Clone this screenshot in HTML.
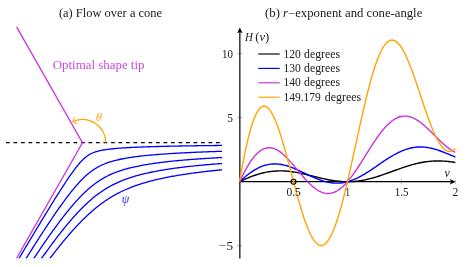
<!DOCTYPE html>
<html><head><meta charset="utf-8"><title>Figure</title>
<style>
html,body{margin:0;padding:0;background:#fff;}
svg{display:block;will-change:transform;}
text{font-family:"Liberation Serif",serif;font-size:11.3px;fill:#202020;}
.i{font-style:italic;}
.n{font-size:12.2px;}
.t{font-size:11.9px;}
</style></head><body>
<svg width="471" height="267" viewBox="0 0 471 267">
<defs><clipPath id="clipL"><rect x="0" y="0" width="222" height="258.2"/></clipPath></defs>
<rect width="471" height="267" fill="#ffffff"/>
<!-- left panel -->
<text class="t" x="58.9" y="16.7" textLength="103.2" lengthAdjust="spacingAndGlyphs">(a) Flow over a cone</text>
<text class="n" x="52.7" y="69.4" textLength="91.8" lengthAdjust="spacingAndGlyphs" style="fill:#c832dc;fill-opacity:0.9">Optimal shape tip</text>
<path d="M6,142.70000000000002 H220.5" stroke="#000" stroke-width="1.25" stroke-dasharray="3.75 3.75" fill="none"/>
<g clip-path="url(#clipL)">
<path d="M225.75,145.40 L224.29,145.41 L222.86,145.43 L221.46,145.44 L220.10,145.45 L218.77,145.47 L217.48,145.48 L216.21,145.50 L214.98,145.51 L213.77,145.53 L212.20,145.54 L210.68,145.56 L209.20,145.58 L207.76,145.60 L206.36,145.61 L205.00,145.63 L203.68,145.65 L202.39,145.67 L201.14,145.68 L199.92,145.70 L198.44,145.72 L197.00,145.74 L195.60,145.76 L194.25,145.78 L192.94,145.80 L191.66,145.82 L190.43,145.84 L189.22,145.85 L187.82,145.88 L186.46,145.90 L185.15,145.92 L183.88,145.94 L182.64,145.96 L181.25,145.99 L179.90,146.01 L178.60,146.04 L177.34,146.06 L176.12,146.08 L174.78,146.11 L173.48,146.13 L172.23,146.16 L171.01,146.18 L169.70,146.21 L168.43,146.24 L167.21,146.27 L165.90,146.29 L164.64,146.32 L163.42,146.35 L162.14,146.38 L160.91,146.41 L159.61,146.45 L158.37,146.48 L157.08,146.51 L155.84,146.55 L154.56,146.58 L153.34,146.62 L152.09,146.65 L150.88,146.69 L149.66,146.73 L148.41,146.77 L147.16,146.81 L145.89,146.85 L144.69,146.89 L143.48,146.94 L142.27,146.98 L141.07,147.03 L139.82,147.08 L138.59,147.13 L137.38,147.18 L136.15,147.23 L134.94,147.28 L133.71,147.34 L132.49,147.40 L131.26,147.46 L130.05,147.52 L128.84,147.59 L127.63,147.65 L126.41,147.73 L125.19,147.80 L123.99,147.88 L122.78,147.95 L121.57,148.04 L120.36,148.13 L119.15,148.22 L117.95,148.31 L116.74,148.41 L115.53,148.52 L114.33,148.63 L113.14,148.75 L111.94,148.87 L110.74,149.00 L109.55,149.14 L108.35,149.29 L107.16,149.45 L105.97,149.62 L104.78,149.80 L103.60,150.00 L102.41,150.21 L101.23,150.44 L100.06,150.69 L98.89,150.96 L97.72,151.26 L96.57,151.58 L95.42,151.94 L94.28,152.33 L93.16,152.75 L92.06,153.22 L90.97,153.73 L89.90,154.29 L88.87,154.89 L87.85,155.54 L86.87,156.22 L85.91,156.95 L84.98,157.71 L84.08,158.50 L83.20,159.32 L82.34,160.16 L81.50,161.02 L80.69,161.90 L79.88,162.80 L79.10,163.71 L78.32,164.63 L77.56,165.56 L76.81,166.49 L76.06,167.44 L75.33,168.40 L74.60,169.36 L73.88,170.32 L73.17,171.30 L72.47,172.27 L71.76,173.26 L71.06,174.24 L70.37,175.23 L69.68,176.22 L69.00,177.22 L68.32,178.22 L67.64,179.21 L66.96,180.22 L66.29,181.24 L65.61,182.25 L64.94,183.27 L64.28,184.27 L63.61,185.30 L62.95,186.31 L62.28,187.34 L61.61,188.38 L60.95,189.41 L60.28,190.45 L59.63,191.48 L58.96,192.53 L58.31,193.56 L57.64,194.60 L57.00,195.62 L56.36,196.65 L55.71,197.67 L55.07,198.70 L54.43,199.73 L53.79,200.75 L53.13,201.82 L52.47,202.88 L51.82,203.93 L51.19,204.95 L50.53,206.02 L49.88,207.07 L49.21,208.16 L48.56,209.22 L47.88,210.32 L47.23,211.39 L46.55,212.50 L45.91,213.55 L45.24,214.65 L44.60,215.69 L43.95,216.78 L43.26,217.90 L42.63,218.95 L41.97,220.04 L41.28,221.17 L40.65,222.21 L40.00,223.29 L39.32,224.40 L38.63,225.56 L37.99,226.61 L37.34,227.69 L36.67,228.81 L35.97,229.97 L35.25,231.18 L34.61,232.24 L33.95,233.34 L33.27,234.47 L32.57,235.64 L31.85,236.85 L31.23,237.89 L30.59,238.96 L29.93,240.06 L29.25,241.19 L28.55,242.36 L27.84,243.56 L27.09,244.81 L26.33,246.09 L25.70,247.15 L25.06,248.23 L24.39,249.34 L23.71,250.49 L23.01,251.67 L22.30,252.88 L21.56,254.12 L20.80,255.40 L20.01,256.72 L19.21,258.08 L18.59,259.13 L17.95,260.20 L17.30,261.30 L17.08,261.67" fill="none" stroke="#0000ff" stroke-width="1.3"/>
<path d="M225.95,151.18 L224.64,151.22 L223.35,151.26 L222.09,151.30 L220.87,151.34 L219.66,151.38 L218.34,151.42 L217.05,151.46 L215.79,151.50 L214.56,151.55 L213.35,151.59 L212.04,151.63 L210.77,151.68 L209.53,151.72 L208.31,151.77 L207.01,151.82 L205.74,151.86 L204.50,151.91 L203.29,151.96 L202.01,152.01 L200.75,152.06 L199.53,152.11 L198.25,152.16 L197.00,152.21 L195.78,152.27 L194.50,152.32 L193.26,152.38 L192.05,152.43 L190.79,152.49 L189.56,152.55 L188.29,152.60 L187.06,152.66 L185.79,152.73 L184.56,152.79 L183.29,152.85 L182.06,152.92 L180.80,152.98 L179.58,153.05 L178.34,153.12 L177.13,153.18 L175.90,153.25 L174.66,153.32 L173.45,153.40 L172.23,153.47 L171.00,153.54 L169.76,153.62 L168.52,153.70 L167.32,153.78 L166.11,153.86 L164.91,153.94 L163.70,154.03 L162.50,154.11 L161.30,154.20 L160.07,154.29 L158.85,154.39 L157.64,154.48 L156.41,154.58 L155.20,154.68 L153.98,154.78 L152.77,154.89 L151.56,154.99 L150.34,155.10 L149.12,155.22 L147.91,155.33 L146.70,155.45 L145.49,155.58 L144.30,155.70 L143.09,155.83 L141.89,155.96 L140.68,156.10 L139.47,156.24 L138.27,156.38 L137.07,156.53 L135.87,156.69 L134.68,156.85 L133.49,157.01 L132.29,157.18 L131.10,157.35 L129.91,157.54 L128.71,157.72 L127.52,157.92 L126.33,158.12 L125.14,158.33 L123.95,158.55 L122.77,158.77 L121.59,159.01 L120.41,159.25 L119.23,159.50 L118.06,159.77 L116.89,160.04 L115.72,160.33 L114.55,160.63 L113.39,160.94 L112.23,161.27 L111.08,161.61 L109.93,161.97 L108.78,162.34 L107.65,162.73 L106.52,163.14 L105.39,163.56 L104.27,164.01 L103.17,164.48 L102.07,164.96 L100.98,165.47 L99.90,166.00 L98.83,166.55 L97.78,167.12 L96.73,167.72 L95.70,168.33 L94.68,168.97 L93.68,169.63 L92.68,170.31 L91.70,171.00 L90.74,171.72 L89.79,172.45 L88.85,173.20 L87.92,173.97 L87.01,174.75 L86.11,175.54 L85.22,176.35 L84.34,177.17 L83.47,178.00 L82.61,178.85 L81.76,179.70 L80.93,180.57 L80.10,181.44 L79.28,182.32 L78.46,183.21 L77.66,184.10 L76.86,185.00 L76.07,185.91 L75.29,186.83 L74.51,187.75 L73.74,188.67 L72.97,189.60 L72.21,190.53 L71.46,191.47 L70.71,192.41 L69.96,193.36 L69.22,194.31 L68.48,195.26 L67.75,196.23 L67.01,197.19 L66.29,198.15 L65.56,199.12 L64.83,200.10 L64.11,201.08 L63.39,202.07 L62.68,203.04 L61.96,204.04 L61.26,205.02 L60.55,206.00 L59.84,207.00 L59.14,207.99 L58.44,208.99 L57.75,209.98 L57.05,210.98 L56.35,211.98 L55.67,212.97 L54.98,213.97 L54.28,214.99 L53.60,215.98 L52.92,216.98 L52.24,217.99 L51.55,219.01 L50.87,220.02 L50.19,221.04 L49.50,222.06 L48.83,223.07 L48.15,224.09 L47.49,225.09 L46.80,226.13 L46.12,227.17 L45.44,228.19 L44.78,229.20 L44.10,230.24 L43.43,231.26 L42.74,232.32 L42.07,233.36 L41.41,234.37 L40.73,235.42 L40.07,236.43 L39.39,237.48 L38.74,238.50 L38.07,239.55 L37.42,240.56 L36.75,241.60 L36.07,242.67 L35.41,243.70 L34.74,244.75 L34.04,245.84 L33.39,246.88 L32.71,247.95 L32.01,249.04 L31.36,250.08 L30.68,251.15 L29.99,252.25 L29.34,253.28 L28.67,254.34 L27.99,255.43 L27.29,256.54 L26.64,257.58 L25.97,258.65 L25.29,259.74 L24.59,260.86 L23.94,261.89 L23.94,261.89" fill="none" stroke="#0000ff" stroke-width="1.3"/>
<path d="M225.98,157.30 L224.71,157.36 L223.48,157.43 L222.27,157.49 L220.99,157.56 L219.74,157.63 L218.52,157.69 L217.24,157.77 L215.99,157.84 L214.77,157.91 L213.50,157.98 L212.26,158.06 L211.04,158.13 L209.78,158.21 L208.55,158.28 L207.35,158.36 L206.11,158.44 L204.89,158.51 L203.65,158.60 L202.43,158.68 L201.18,158.76 L199.96,158.85 L198.71,158.93 L197.49,159.02 L196.25,159.11 L195.04,159.20 L193.81,159.29 L192.61,159.38 L191.39,159.47 L190.16,159.57 L188.95,159.66 L187.74,159.76 L186.51,159.86 L185.27,159.97 L184.07,160.07 L182.86,160.17 L181.64,160.28 L180.42,160.39 L179.20,160.50 L177.97,160.62 L176.75,160.73 L175.53,160.85 L174.31,160.97 L173.10,161.09 L171.89,161.22 L170.69,161.34 L169.47,161.47 L168.26,161.60 L167.06,161.74 L165.85,161.88 L164.65,162.01 L163.44,162.16 L162.24,162.30 L161.04,162.45 L159.84,162.60 L158.63,162.76 L157.43,162.92 L156.22,163.08 L155.03,163.25 L153.83,163.42 L152.63,163.59 L151.43,163.77 L150.23,163.95 L149.05,164.14 L147.86,164.33 L146.67,164.52 L145.48,164.72 L144.29,164.93 L143.10,165.14 L141.91,165.36 L140.72,165.58 L139.53,165.81 L138.35,166.05 L137.17,166.29 L135.98,166.54 L134.81,166.80 L133.64,167.06 L132.46,167.33 L131.29,167.61 L130.12,167.90 L128.95,168.20 L127.78,168.50 L126.62,168.82 L125.46,169.14 L124.31,169.47 L123.15,169.82 L122.01,170.18 L120.86,170.54 L119.72,170.92 L118.58,171.31 L117.45,171.72 L116.32,172.13 L115.20,172.56 L114.08,173.00 L112.97,173.46 L111.86,173.93 L110.76,174.42 L109.67,174.92 L108.59,175.43 L107.51,175.96 L106.44,176.51 L105.37,177.07 L104.32,177.65 L103.27,178.24 L102.24,178.84 L101.21,179.46 L100.19,180.10 L99.18,180.75 L98.18,181.42 L97.19,182.09 L96.20,182.79 L95.23,183.49 L94.26,184.21 L93.31,184.95 L92.36,185.69 L91.43,186.44 L90.50,187.21 L89.58,187.98 L88.67,188.77 L87.77,189.57 L86.88,190.38 L85.99,191.19 L85.12,192.01 L84.25,192.85 L83.39,193.68 L82.53,194.53 L81.68,195.38 L80.84,196.24 L80.01,197.11 L79.18,197.98 L78.36,198.86 L77.54,199.75 L76.73,200.64 L75.92,201.53 L75.12,202.43 L74.32,203.34 L73.53,204.25 L72.74,205.17 L71.95,206.09 L71.18,207.01 L70.40,207.94 L69.63,208.86 L68.86,209.79 L68.10,210.73 L67.34,211.67 L66.59,212.60 L65.84,213.55 L65.09,214.50 L64.34,215.45 L63.60,216.41 L62.86,217.36 L62.13,218.31 L61.39,219.27 L60.67,220.23 L59.93,221.20 L59.20,222.17 L58.48,223.13 L57.75,224.11 L57.03,225.09 L56.31,226.07 L55.59,227.04 L54.88,228.02 L54.16,229.01 L53.45,229.99 L52.75,230.97 L52.04,231.95 L51.34,232.94 L50.63,233.93 L49.93,234.92 L49.23,235.91 L48.53,236.90 L47.84,237.89 L47.15,238.87 L46.44,239.89 L45.74,240.90 L45.04,241.90 L44.36,242.89 L43.65,243.91 L42.96,244.92 L42.28,245.92 L41.58,246.94 L40.89,247.95 L40.18,248.99 L39.49,250.01 L38.81,251.01 L38.12,252.04 L37.45,253.04 L36.75,254.07 L36.08,255.08 L35.39,256.11 L34.72,257.11 L34.04,258.13 L33.34,259.18 L32.67,260.20 L31.98,261.24 L31.48,261.99" fill="none" stroke="#0000ff" stroke-width="1.3"/>
<path d="M225.96,163.18 L224.70,163.28 L223.46,163.37 L222.24,163.46 L220.99,163.55 L219.76,163.64 L218.56,163.74 L217.33,163.83 L216.12,163.93 L214.88,164.03 L213.66,164.13 L212.42,164.23 L211.20,164.33 L209.96,164.44 L208.74,164.54 L207.51,164.65 L206.30,164.76 L205.07,164.87 L203.87,164.98 L202.65,165.09 L201.41,165.20 L200.20,165.32 L198.98,165.44 L197.75,165.56 L196.55,165.68 L195.33,165.80 L194.11,165.93 L192.88,166.06 L191.68,166.18 L190.48,166.31 L189.27,166.45 L188.06,166.58 L186.84,166.72 L185.63,166.86 L184.42,167.00 L183.21,167.15 L182.00,167.29 L180.79,167.44 L179.60,167.59 L178.40,167.75 L177.19,167.90 L175.98,168.06 L174.79,168.23 L173.57,168.39 L172.37,168.56 L171.16,168.74 L169.97,168.91 L168.76,169.09 L167.57,169.27 L166.38,169.46 L165.18,169.65 L163.98,169.84 L162.78,170.04 L161.58,170.24 L160.38,170.45 L159.19,170.66 L158.01,170.87 L156.81,171.09 L155.62,171.31 L154.45,171.54 L153.26,171.77 L152.08,172.01 L150.89,172.25 L149.70,172.50 L148.52,172.76 L147.34,173.02 L146.16,173.28 L144.99,173.55 L143.82,173.83 L142.65,174.12 L141.49,174.41 L140.32,174.71 L139.15,175.01 L137.99,175.33 L136.83,175.65 L135.67,175.98 L134.51,176.32 L133.36,176.66 L132.21,177.02 L131.06,177.38 L129.92,177.76 L128.78,178.14 L127.64,178.53 L126.50,178.93 L125.38,179.35 L124.25,179.77 L123.13,180.20 L122.01,180.65 L120.90,181.10 L119.79,181.57 L118.68,182.05 L117.58,182.54 L116.49,183.04 L115.40,183.56 L114.32,184.08 L113.25,184.62 L112.18,185.17 L111.11,185.73 L110.06,186.31 L109.01,186.90 L107.96,187.50 L106.93,188.11 L105.90,188.73 L104.88,189.37 L103.86,190.01 L102.86,190.67 L101.86,191.34 L100.87,192.02 L99.88,192.72 L98.90,193.42 L97.94,194.13 L96.98,194.85 L96.02,195.59 L95.08,196.33 L94.14,197.08 L93.21,197.84 L92.28,198.61 L91.37,199.39 L90.45,200.17 L89.55,200.97 L88.65,201.77 L87.76,202.58 L86.88,203.40 L85.99,204.22 L85.12,205.05 L84.25,205.89 L83.39,206.74 L82.54,207.58 L81.69,208.43 L80.85,209.29 L80.01,210.15 L79.17,211.03 L78.34,211.90 L77.52,212.78 L76.70,213.67 L75.88,214.56 L75.07,215.45 L74.26,216.36 L73.45,217.26 L72.65,218.17 L71.85,219.08 L71.06,219.99 L70.27,220.90 L69.49,221.82 L68.71,222.74 L67.93,223.67 L67.16,224.59 L66.40,225.52 L65.63,226.45 L64.87,227.38 L64.10,228.33 L63.34,229.28 L62.58,230.22 L61.83,231.16 L61.07,232.12 L60.32,233.07 L59.57,234.04 L58.82,234.99 L58.08,235.95 L57.34,236.91 L56.60,237.87 L55.86,238.84 L55.12,239.82 L54.40,240.77 L53.67,241.74 L52.95,242.70 L52.23,243.67 L51.50,244.64 L50.79,245.61 L50.07,246.58 L49.36,247.55 L48.63,248.55 L47.90,249.54 L47.18,250.53 L46.47,251.52 L45.76,252.50 L45.04,253.50 L44.32,254.50 L43.62,255.49 L42.92,256.47 L42.21,257.47 L41.51,258.46 L40.79,259.47 L40.09,260.47 L39.40,261.46 L39.04,261.96" fill="none" stroke="#0000ff" stroke-width="1.3"/>
<path d="M225.97,169.39 L224.77,169.51 L223.53,169.62 L222.31,169.74 L221.08,169.86 L219.86,169.98 L218.62,170.10 L217.41,170.23 L216.18,170.35 L214.97,170.48 L213.74,170.61 L212.54,170.73 L211.33,170.87 L210.09,171.00 L208.89,171.14 L207.67,171.27 L206.47,171.41 L205.27,171.55 L204.05,171.69 L202.82,171.84 L201.63,171.98 L200.42,172.13 L199.21,172.28 L197.99,172.44 L196.77,172.59 L195.58,172.75 L194.38,172.91 L193.19,173.07 L191.99,173.23 L190.79,173.40 L189.59,173.57 L188.40,173.74 L187.21,173.91 L186.02,174.09 L184.80,174.27 L183.60,174.45 L182.40,174.64 L181.21,174.83 L180.00,175.02 L178.81,175.22 L177.62,175.42 L176.42,175.62 L175.23,175.82 L174.03,176.03 L172.85,176.25 L171.66,176.46 L170.46,176.68 L169.28,176.91 L168.10,177.14 L166.91,177.37 L165.73,177.61 L164.54,177.85 L163.36,178.09 L162.18,178.35 L161.00,178.60 L159.83,178.86 L158.65,179.13 L157.47,179.40 L156.29,179.67 L155.12,179.96 L153.94,180.24 L152.77,180.54 L151.60,180.84 L150.43,181.14 L149.27,181.45 L148.11,181.77 L146.96,182.09 L145.80,182.42 L144.65,182.76 L143.50,183.10 L142.34,183.46 L141.19,183.82 L140.04,184.18 L138.90,184.56 L137.75,184.94 L136.61,185.33 L135.48,185.73 L134.35,186.14 L133.22,186.56 L132.09,186.98 L130.97,187.42 L129.85,187.86 L128.73,188.32 L127.62,188.78 L126.51,189.25 L125.41,189.73 L124.31,190.22 L123.22,190.72 L122.13,191.24 L121.04,191.76 L119.97,192.29 L118.89,192.83 L117.83,193.38 L116.77,193.94 L115.71,194.52 L114.66,195.10 L113.61,195.69 L112.57,196.29 L111.54,196.91 L110.51,197.53 L109.49,198.16 L108.47,198.81 L107.46,199.46 L106.46,200.12 L105.46,200.79 L104.46,201.48 L103.48,202.17 L102.50,202.87 L101.52,203.58 L100.56,204.30 L99.59,205.02 L98.64,205.76 L97.69,206.50 L96.75,207.25 L95.81,208.01 L94.88,208.78 L93.96,209.55 L93.04,210.32 L92.13,211.11 L91.22,211.91 L90.32,212.70 L89.43,213.51 L88.54,214.32 L87.65,215.14 L86.78,215.96 L85.90,216.79 L85.04,217.62 L84.17,218.46 L83.32,219.31 L82.46,220.15 L81.62,221.00 L80.77,221.87 L79.93,222.73 L79.09,223.60 L78.26,224.47 L77.43,225.35 L76.60,226.23 L75.78,227.12 L74.96,228.01 L74.14,228.90 L73.34,229.79 L72.53,230.69 L71.73,231.59 L70.94,232.49 L70.14,233.39 L69.35,234.30 L68.56,235.22 L67.77,236.14 L66.98,237.06 L66.21,237.98 L65.42,238.91 L64.65,239.83 L63.87,240.77 L63.10,241.70 L62.33,242.64 L61.57,243.57 L60.81,244.51 L60.05,245.45 L59.28,246.41 L58.53,247.35 L57.77,248.29 L57.02,249.25 L56.27,250.20 L55.52,251.16 L54.77,252.12 L54.02,253.08 L53.27,254.05 L52.53,255.02 L51.79,255.98 L51.05,256.95 L50.32,257.91 L49.59,258.87 L48.85,259.85 L48.11,260.83 L47.38,261.80 L47.25,261.98" fill="none" stroke="#0000ff" stroke-width="1.3"/>
</g>

<path d="M16.6,26.9 L82.45,142.8 L16.6,258.3" fill="none" stroke="#c832dc" stroke-width="1.3" stroke-linejoin="miter"/>
<path d="M105.75,142.80 A23.3,23.3 0 0 0 72.97,121.51" fill="none" stroke="#ffa500" stroke-width="1.25"/>
<path d="M74.56,117.58 Q73.33,120.83 72.42,121.97 Q73.86,122.18 76.98,123.72" fill="none" stroke="#ffa500" stroke-width="0.95" stroke-linecap="round" stroke-linejoin="round"/>
<text transform="translate(95.4,121.0) skewX(-7)" class="i" style="fill:#ffa500;font-size:12px;fill-opacity:0.92">θ</text>
<text x="121.8" y="203.0" class="i" style="fill:#0000ff;font-size:12px;fill-opacity:0.88">ψ</text>
<!-- right panel -->
<text class="t" x="265.1" y="16.7" textLength="157.2" lengthAdjust="spacingAndGlyphs">(b) <tspan class="i">r</tspan>−exponent and cone-angle</text>
<!-- ticks -->
<g stroke="#808080" stroke-width="0.5" fill="none">
<path d="M237.0,53.60 H242.6 M237.0,117.65 H242.6 M237.0,245.75 H242.6"/>
<path d="M293.52,178.8 V184.3 M347.45,178.8 V184.3 M401.38,178.8 V184.3 M455.30,178.8 V184.3"/>
</g>
<!-- axes -->
<path d="M239.85,258.6 V31.5" stroke="#000" stroke-width="1.2" fill="none"/>
<path d="M239.85,27.6 L237.1,33.3 L239.85,32.1 L242.6,33.3 Z" fill="#000"/>
<path d="M239.85,181.7 H451.5" stroke="#000" stroke-width="1.2" fill="none"/>
<path d="M455.6,181.7 L449.9,178.95 L451.1,181.7 L449.9,184.45 Z" fill="#000"/>
<path d="M239.60,181.70 L240.95,181.06 L242.30,180.44 L243.64,179.83 L244.99,179.22 L246.34,178.64 L247.69,178.07 L249.04,177.51 L250.38,176.97 L251.73,176.45 L253.08,175.95 L254.43,175.47 L255.78,175.01 L257.13,174.57 L258.47,174.15 L259.82,173.76 L261.17,173.39 L262.52,173.05 L263.87,172.73 L265.21,172.43 L266.56,172.16 L267.91,171.92 L269.26,171.70 L270.61,171.50 L271.95,171.34 L273.30,171.20 L274.65,171.08 L276.00,170.99 L277.35,170.93 L278.70,170.89 L280.04,170.87 L281.39,170.88 L282.74,170.91 L284.09,170.97 L285.44,171.05 L286.78,171.15 L288.13,171.28 L289.48,171.42 L290.83,171.58 L292.18,171.76 L293.52,171.96 L294.87,172.18 L296.22,172.41 L297.57,172.66 L298.92,172.92 L300.27,173.20 L301.61,173.48 L302.96,173.78 L304.31,174.08 L305.66,174.40 L307.01,174.72 L308.35,175.04 L309.70,175.37 L311.05,175.71 L312.40,176.04 L313.75,176.38 L315.10,176.71 L316.44,177.04 L317.79,177.37 L319.14,177.70 L320.49,178.02 L321.84,178.33 L323.18,178.64 L324.53,178.94 L325.88,179.22 L327.23,179.50 L328.58,179.76 L329.92,180.01 L331.27,180.25 L332.62,180.47 L333.97,180.67 L335.32,180.86 L336.66,181.03 L338.01,181.19 L339.36,181.32 L340.71,181.43 L342.06,181.53 L343.41,181.60 L344.75,181.66 L346.10,181.69 L347.45,181.70 L348.80,181.69 L350.15,181.66 L351.49,181.60 L352.84,181.52 L354.19,181.43 L355.54,181.30 L356.89,181.16 L358.24,181.00 L359.58,180.81 L360.93,180.60 L362.28,180.38 L363.63,180.13 L364.98,179.86 L366.32,179.57 L367.67,179.27 L369.02,178.94 L370.37,178.60 L371.72,178.24 L373.06,177.87 L374.41,177.48 L375.76,177.08 L377.11,176.66 L378.46,176.23 L379.80,175.79 L381.15,175.34 L382.50,174.88 L383.85,174.42 L385.20,173.94 L386.55,173.46 L387.89,172.98 L389.24,172.49 L390.59,172.00 L391.94,171.50 L393.29,171.01 L394.63,170.52 L395.98,170.03 L397.33,169.54 L398.68,169.06 L400.03,168.58 L401.38,168.11 L402.72,167.65 L404.07,167.19 L405.42,166.75 L406.77,166.31 L408.12,165.89 L409.46,165.48 L410.81,165.08 L412.16,164.70 L413.51,164.33 L414.86,163.98 L416.20,163.64 L417.55,163.33 L418.90,163.03 L420.25,162.74 L421.60,162.48 L422.94,162.24 L424.29,162.02 L425.64,161.81 L426.99,161.63 L428.34,161.47 L429.69,161.33 L431.03,161.21 L432.38,161.11 L433.73,161.03 L435.08,160.98 L436.43,160.94 L437.77,160.93 L439.12,160.94 L440.47,160.97 L441.82,161.01 L443.17,161.08 L444.51,161.17 L445.86,161.27 L447.21,161.40 L448.56,161.54 L449.91,161.70 L451.26,161.87 L452.60,162.06 L453.95,162.27 L455.30,162.48" fill="none" stroke="#000000" stroke-width="1.4" stroke-linejoin="round"/>
<path d="M239.60,181.70 L240.95,180.46 L242.30,179.25 L243.64,178.07 L244.99,176.92 L246.34,175.82 L247.69,174.75 L249.04,173.72 L250.38,172.74 L251.73,171.81 L253.08,170.92 L254.43,170.08 L255.78,169.29 L257.13,168.55 L258.47,167.86 L259.82,167.23 L261.17,166.65 L262.52,166.13 L263.87,165.66 L265.21,165.25 L266.56,164.90 L267.91,164.59 L269.26,164.35 L270.61,164.16 L271.95,164.02 L273.30,163.94 L274.65,163.91 L276.00,163.93 L277.35,164.01 L278.70,164.13 L280.04,164.30 L281.39,164.51 L282.74,164.77 L284.09,165.07 L285.44,165.41 L286.78,165.79 L288.13,166.21 L289.48,166.66 L290.83,167.14 L292.18,167.65 L293.52,168.18 L294.87,168.74 L296.22,169.32 L297.57,169.92 L298.92,170.53 L300.27,171.15 L301.61,171.79 L302.96,172.43 L304.31,173.08 L305.66,173.72 L307.01,174.37 L308.35,175.01 L309.70,175.64 L311.05,176.26 L312.40,176.87 L313.75,177.47 L315.10,178.05 L316.44,178.60 L317.79,179.14 L319.14,179.65 L320.49,180.13 L321.84,180.58 L323.18,181.00 L324.53,181.39 L325.88,181.74 L327.23,182.06 L328.58,182.34 L329.92,182.57 L331.27,182.77 L332.62,182.93 L333.97,183.04 L335.32,183.11 L336.66,183.13 L338.01,183.11 L339.36,183.05 L340.71,182.93 L342.06,182.78 L343.41,182.58 L344.75,182.33 L346.10,182.04 L347.45,181.70 L348.80,181.32 L350.15,180.90 L351.49,180.43 L352.84,179.93 L354.19,179.38 L355.54,178.80 L356.89,178.18 L358.24,177.53 L359.58,176.84 L360.93,176.12 L362.28,175.37 L363.63,174.59 L364.98,173.79 L366.32,172.96 L367.67,172.12 L369.02,171.25 L370.37,170.37 L371.72,169.47 L373.06,168.57 L374.41,167.65 L375.76,166.73 L377.11,165.80 L378.46,164.87 L379.80,163.94 L381.15,163.02 L382.50,162.10 L383.85,161.19 L385.20,160.29 L386.55,159.41 L387.89,158.54 L389.24,157.68 L390.59,156.85 L391.94,156.04 L393.29,155.26 L394.63,154.50 L395.98,153.77 L397.33,153.07 L398.68,152.40 L400.03,151.77 L401.38,151.17 L402.72,150.61 L404.07,150.08 L405.42,149.59 L406.77,149.15 L408.12,148.74 L409.46,148.37 L410.81,148.05 L412.16,147.77 L413.51,147.53 L414.86,147.34 L416.20,147.18 L417.55,147.07 L418.90,147.01 L420.25,146.98 L421.60,147.00 L422.94,147.05 L424.29,147.15 L425.64,147.29 L426.99,147.46 L428.34,147.67 L429.69,147.92 L431.03,148.20 L432.38,148.52 L433.73,148.86 L435.08,149.24 L436.43,149.64 L437.77,150.07 L439.12,150.52 L440.47,151.00 L441.82,151.49 L443.17,152.00 L444.51,152.53 L445.86,153.06 L447.21,153.61 L448.56,154.17 L449.91,154.73 L451.26,155.30 L452.60,155.87 L453.95,156.44 L455.30,157.00" fill="none" stroke="#0000ff" stroke-width="1.4" stroke-linejoin="round"/>
<path d="M239.60,181.70 L240.95,178.82 L242.30,176.04 L243.64,173.36 L244.99,170.80 L246.34,168.35 L247.69,166.02 L249.04,163.81 L250.38,161.74 L251.73,159.80 L253.08,158.00 L254.43,156.35 L255.78,154.83 L257.13,153.46 L258.47,152.24 L259.82,151.16 L261.17,150.24 L262.52,149.46 L263.87,148.83 L265.21,148.34 L266.56,148.00 L267.91,147.80 L269.26,147.74 L270.61,147.82 L271.95,148.04 L273.30,148.38 L274.65,148.84 L276.00,149.43 L277.35,150.13 L278.70,150.95 L280.04,151.86 L281.39,152.88 L282.74,153.98 L284.09,155.17 L285.44,156.44 L286.78,157.77 L288.13,159.17 L289.48,160.63 L290.83,162.13 L292.18,163.67 L293.52,165.25 L294.87,166.84 L296.22,168.46 L297.57,170.08 L298.92,171.70 L300.27,173.31 L301.61,174.91 L302.96,176.49 L304.31,178.03 L305.66,179.54 L307.01,181.00 L308.35,182.40 L309.70,183.75 L311.05,185.04 L312.40,186.25 L313.75,187.38 L315.10,188.44 L316.44,189.40 L317.79,190.27 L319.14,191.05 L320.49,191.72 L321.84,192.29 L323.18,192.75 L324.53,193.10 L325.88,193.34 L327.23,193.47 L328.58,193.48 L329.92,193.37 L331.27,193.14 L332.62,192.80 L333.97,192.34 L335.32,191.76 L336.66,191.07 L338.01,190.26 L339.36,189.35 L340.71,188.33 L342.06,187.20 L343.41,185.97 L344.75,184.64 L346.10,183.21 L347.45,181.70 L348.80,180.10 L350.15,178.42 L351.49,176.67 L352.84,174.85 L354.19,172.96 L355.54,171.02 L356.89,169.03 L358.24,166.99 L359.58,164.92 L360.93,162.81 L362.28,160.68 L363.63,158.54 L364.98,156.38 L366.32,154.22 L367.67,152.06 L369.02,149.91 L370.37,147.78 L371.72,145.68 L373.06,143.60 L374.41,141.56 L375.76,139.57 L377.11,137.62 L378.46,135.73 L379.80,133.90 L381.15,132.14 L382.50,130.45 L383.85,128.84 L385.20,127.30 L386.55,125.86 L387.89,124.50 L389.24,123.24 L390.59,122.07 L391.94,121.00 L393.29,120.03 L394.63,119.17 L395.98,118.41 L397.33,117.76 L398.68,117.21 L400.03,116.78 L401.38,116.45 L402.72,116.23 L404.07,116.12 L405.42,116.11 L406.77,116.21 L408.12,116.40 L409.46,116.70 L410.81,117.10 L412.16,117.59 L413.51,118.17 L414.86,118.83 L416.20,119.58 L417.55,120.41 L418.90,121.31 L420.25,122.28 L421.60,123.32 L422.94,124.41 L424.29,125.56 L425.64,126.75 L426.99,127.98 L428.34,129.25 L429.69,130.54 L431.03,131.86 L432.38,133.20 L433.73,134.54 L435.08,135.88 L436.43,137.23 L437.77,138.56 L439.12,139.88 L440.47,141.17 L441.82,142.43 L443.17,143.66 L444.51,144.85 L445.86,146.00 L447.21,147.09 L448.56,148.12 L449.91,149.09 L451.26,150.00 L452.60,150.83 L453.95,151.59 L455.30,152.26" fill="none" stroke="#c832dc" stroke-width="1.4" stroke-linejoin="round"/>
<path d="M239.60,181.70 L240.95,173.85 L242.30,166.36 L243.64,159.25 L244.99,152.54 L246.34,146.25 L247.69,140.39 L249.04,134.97 L250.38,130.00 L251.73,125.49 L253.08,121.45 L254.43,117.87 L255.78,114.78 L257.13,112.16 L258.47,110.02 L259.82,108.35 L261.17,107.15 L262.52,106.41 L263.87,106.13 L265.21,106.30 L266.56,106.90 L267.91,107.92 L269.26,109.35 L270.61,111.18 L271.95,113.38 L273.30,115.94 L274.65,118.83 L276.00,122.05 L277.35,125.55 L278.70,129.33 L280.04,133.36 L281.39,137.62 L282.74,142.07 L284.09,146.69 L285.44,151.47 L286.78,156.36 L288.13,161.35 L289.48,166.40 L290.83,171.50 L292.18,176.61 L293.52,181.70 L294.87,186.75 L296.22,191.74 L297.57,196.64 L298.92,201.42 L300.27,206.06 L301.61,210.54 L302.96,214.83 L304.31,218.91 L305.66,222.76 L307.01,226.37 L308.35,229.71 L309.70,232.77 L311.05,235.53 L312.40,237.97 L313.75,240.09 L315.10,241.88 L316.44,243.32 L317.79,244.40 L319.14,245.13 L320.49,245.48 L321.84,245.47 L323.18,245.09 L324.53,244.33 L325.88,243.21 L327.23,241.71 L328.58,239.86 L329.92,237.65 L331.27,235.09 L332.62,232.19 L333.97,228.96 L335.32,225.41 L336.66,221.55 L338.01,217.41 L339.36,212.99 L340.71,208.31 L342.06,203.40 L343.41,198.26 L344.75,192.91 L346.10,187.39 L347.45,181.70 L348.80,175.87 L350.15,169.93 L351.49,163.89 L352.84,157.77 L354.19,151.61 L355.54,145.42 L356.89,139.23 L358.24,133.05 L359.58,126.92 L360.93,120.85 L362.28,114.87 L363.63,108.99 L364.98,103.25 L366.32,97.66 L367.67,92.23 L369.02,87.00 L370.37,81.97 L371.72,77.16 L373.06,72.60 L374.41,68.29 L375.76,64.25 L377.11,60.49 L378.46,57.03 L379.80,53.87 L381.15,51.02 L382.50,48.49 L383.85,46.29 L385.20,44.42 L386.55,42.88 L387.89,41.67 L389.24,40.80 L390.59,40.27 L391.94,40.07 L393.29,40.19 L394.63,40.64 L395.98,41.41 L397.33,42.48 L398.68,43.85 L400.03,45.51 L401.38,47.45 L402.72,49.65 L404.07,52.09 L405.42,54.78 L406.77,57.68 L408.12,60.78 L409.46,64.07 L410.81,67.52 L412.16,71.12 L413.51,74.85 L414.86,78.68 L416.20,82.60 L417.55,86.59 L418.90,90.62 L420.25,94.67 L421.60,98.73 L422.94,102.77 L424.29,106.77 L425.64,110.72 L426.99,114.58 L428.34,118.34 L429.69,121.98 L431.03,125.48 L432.38,128.83 L433.73,132.01 L435.08,134.99 L436.43,137.77 L437.77,140.32 L439.12,142.64 L440.47,144.72 L441.82,146.53 L443.17,148.07 L444.51,149.34 L445.86,150.31 L447.21,151.00 L448.56,151.38 L449.91,151.46 L451.26,151.23 L452.60,150.69 L453.95,149.85 L455.30,148.70" fill="none" stroke="#ffa500" stroke-width="1.4" stroke-linejoin="round"/>

<circle cx="293.52" cy="181.7" r="2.5" fill="none" stroke="#000" stroke-width="1.1"/>
<!-- tick labels -->
<text class="n" x="222.0" y="58.0" textLength="10.9" lengthAdjust="spacingAndGlyphs">10</text>
<text class="n" x="227.3" y="121.6" textLength="5.7" lengthAdjust="spacingAndGlyphs">5</text>
<text class="n" x="219.0" y="249.6" textLength="14.0" lengthAdjust="spacingAndGlyphs">−5</text>
<text x="286.42" y="196.0" class="n" textLength="14.4" lengthAdjust="spacingAndGlyphs">0.5</text>
<text x="345.25" y="196.0" class="n" textLength="4.8" lengthAdjust="spacingAndGlyphs">1</text>
<text x="394.77" y="196.0" class="n" textLength="13.8" lengthAdjust="spacingAndGlyphs">1.5</text>
<text x="452.60" y="196.0" class="n" textLength="5.8" lengthAdjust="spacingAndGlyphs">2</text>
<text x="444.4" y="177.2" class="i" style="font-size:12px">ν</text>
<text x="245.0" y="40.8" class="i" textLength="7.9" lengthAdjust="spacingAndGlyphs" style="font-size:12px">H</text>
<text x="255.2" y="40.8" textLength="14.0" lengthAdjust="spacingAndGlyphs" style="font-size:12px">(<tspan class="i">ν</tspan>)</text>
<!-- legend -->
<g fill="none" stroke-width="1.15">
<path d="M258.3,54.0 H279.7" stroke="#000"/>
<path d="M258.3,68.4 H279.7" stroke="#0000ff"/>
<path d="M258.3,82.8 H279.7" stroke="#c832dc"/>
<path d="M258.3,97.2 H279.7" stroke="#ffa500"/>
</g>
<text class="t" x="283.4" y="57.5" textLength="17.3" lengthAdjust="spacingAndGlyphs">120</text>
<text class="t" x="304.1" y="57.5" textLength="36.0" lengthAdjust="spacingAndGlyphs">degrees</text>
<text class="t" x="283.4" y="71.9" textLength="17.3" lengthAdjust="spacingAndGlyphs">130</text>
<text class="t" x="304.1" y="71.9" textLength="36.0" lengthAdjust="spacingAndGlyphs">degrees</text>
<text class="t" x="283.4" y="86.3" textLength="17.3" lengthAdjust="spacingAndGlyphs">140</text>
<text class="t" x="304.1" y="86.3" textLength="36.0" lengthAdjust="spacingAndGlyphs">degrees</text>
<text class="t" x="283.4" y="100.8" textLength="37.5" lengthAdjust="spacingAndGlyphs">149.179</text>
<text class="t" x="324.8" y="100.8" textLength="36.3" lengthAdjust="spacingAndGlyphs">degrees</text>
</svg>
</body></html>
